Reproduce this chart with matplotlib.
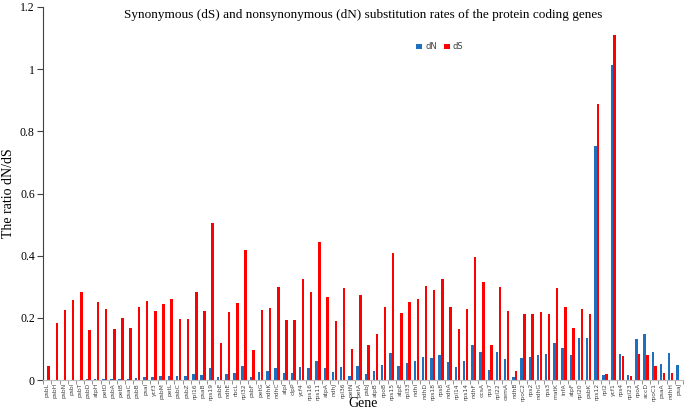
import matplotlib
matplotlib.use('Agg')
import matplotlib.pyplot as plt
import numpy as np

genes = ['psbL', 'psbH', 'psbN', 'psbI', 'psbT', 'psbD', 'atpH', 'petD', 'psbA', 'petB',
         'psaC', 'psbB', 'psaI', 'ycf3', 'psbM', 'petL', 'psbC', 'psbZ', 'rpl16', 'psaB',
         'rps19', 'psbE', 'ndhE', 'rbcL', 'rpl32', 'psbF', 'petG', 'ndhK', 'ndhC', 'atpI',
         'clpP', 'ycf4', 'rps16', 'rps11', 'atpA', 'ndhJ', 'rpl36', 'petN', 'petA', 'psbJ',
         'atpB', 'rpoB', 'rps15', 'atpE', 'rpl33', 'ndhI', 'ndhD', 'rps18', 'rps8', 'ndhA',
         'rpl14', 'rps14', 'ndhF', 'ccsA', 'rps7', 'rpl22', 'cemA', 'ndhB', 'rpoC2', 'rps2',
         'ndhG', 'rps3', 'matK', 'infA', 'atpF', 'rpl20', 'psbK', 'rps12', 'rpl2', 'ycf1',
         'rps4', 'rpl23', 'rpoA', 'accD', 'rpoC1', 'psaA', 'ndhH', 'psaJ']

dN = [0.0, 0.0, 0.0, 0.0, 0.002, 0.004, 0.004, 0.004, 0.004, 0.005,
      0.004, 0.007, 0.011, 0.010, 0.012, 0.014, 0.012, 0.014, 0.021, 0.017,
      0.040, 0.010, 0.019, 0.023, 0.046, 0.011, 0.026, 0.029, 0.038, 0.022,
      0.022, 0.043, 0.038, 0.061, 0.038, 0.026, 0.043, 0.014, 0.044, 0.020,
      0.029, 0.049, 0.087, 0.046, 0.056, 0.062, 0.073, 0.072, 0.081, 0.060,
      0.043, 0.063, 0.112, 0.090, 0.032, 0.091, 0.069, 0.009, 0.072, 0.074,
      0.081, 0.084, 0.121, 0.103, 0.080, 0.137, 0.136, 0.752, 0.018, 1.015,
      0.083, 0.017, 0.133, 0.150, 0.089, 0.052, 0.086, 0.049]

dS = [0.047, 0.185, 0.226, 0.257, 0.283, 0.162, 0.251, 0.229, 0.164, 0.201,
      0.168, 0.234, 0.253, 0.224, 0.246, 0.262, 0.196, 0.197, 0.283, 0.221,
      0.507, 0.119, 0.218, 0.249, 0.418, 0.096, 0.226, 0.231, 0.301, 0.193,
      0.193, 0.324, 0.282, 0.445, 0.269, 0.189, 0.297, 0.100, 0.273, 0.114,
      0.147, 0.234, 0.409, 0.215, 0.250, 0.262, 0.304, 0.291, 0.326, 0.235,
      0.165, 0.230, 0.396, 0.316, 0.114, 0.298, 0.222, 0.029, 0.212, 0.214,
      0.218, 0.212, 0.295, 0.236, 0.167, 0.228, 0.213, 0.887, 0.020, 1.110,
      0.077, 0.014, 0.084, 0.081, 0.045, 0.023, 0.023, 0.001]

blue = '#1f6fbf'
red = '#ff0000'

fig = plt.figure(figsize=(6.85, 4.11), dpi=100)
ax = fig.add_axes([0.063, 0.075, 0.934, 0.908])

x = np.arange(len(genes))
w = 0.3
ax.bar(x - 0.17, dN, width=w, color=blue, label='dN')
ax.bar(x + 0.17, dS, width=w, color=red, label='dS')

ax.set_xlim(-0.5, len(genes) - 0.5)
ax.set_ylim(0, 1.2)
ax.set_yticks([0, 0.2, 0.4, 0.6, 0.8, 1.0, 1.2])
ax.set_yticklabels(['0', '0.2', '0.4', '0.6', '0.8', '1', '1.2'],
                   fontfamily='Liberation Serif', fontsize=8.5)
ax.tick_params(axis='y', length=4, width=0.8, pad=2, colors='#404040', labelcolor='black')

# gene labels centred, tick marks between categories
ax.set_xticks(x)
ax.set_xticklabels(genes, rotation=90, fontsize=4.3, color='#404040')
ax.set_xticks(np.arange(len(genes) + 1) - 0.5, minor=True)
ax.tick_params(axis='x', which='major', length=0, pad=2)
ax.tick_params(axis='x', which='minor', length=3, width=0.6, colors='#808080')

for s in ['top', 'right']:
    ax.spines[s].set_visible(False)
ax.spines['left'].set_color('#404040')
ax.spines['bottom'].set_color('#bfbfbf')

ax.set_ylabel('The ratio dN/dS', fontfamily='Liberation Serif', fontsize=10)
ax.yaxis.set_label_coords(-0.044, 0.5)
ax.set_xlabel('Gene', fontfamily='Liberation Serif', fontsize=10)
ax.xaxis.set_label_coords(0.5, -0.044)

fig.text(0.53, 0.963, 'Synonymous (dS) and nonsynonymous (dN) substitution rates of the protein coding genes',
         ha='center', va='center', fontfamily='Liberation Serif', fontsize=9.5)

leg = ax.legend(loc='upper center', bbox_to_anchor=(0.62, 0.925), ncol=2, frameon=False,
                fontsize=6, handlelength=0.7, handleheight=0.7, columnspacing=0.8,
                handletextpad=0.4)
for t in leg.get_texts():
    t.set_color('#404040')

fig.savefig('out.png', dpi=100)
